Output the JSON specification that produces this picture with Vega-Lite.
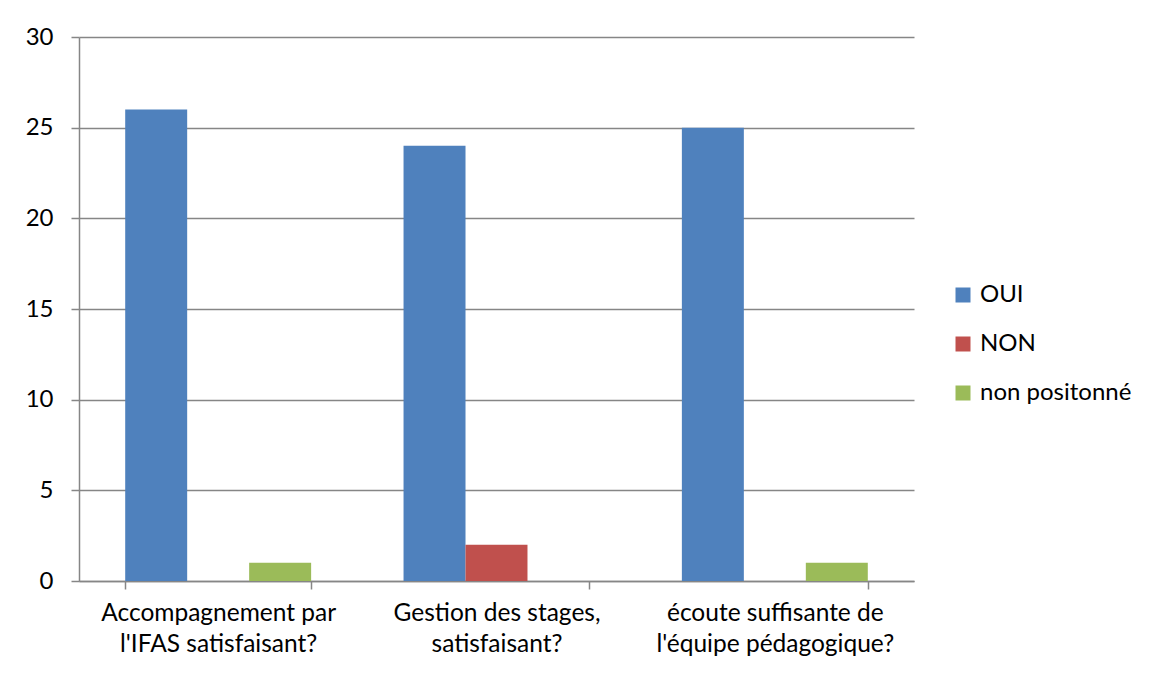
{
  "$schema": "https://vega.github.io/schema/vega-lite/v6.json",
  "width": 835,
  "height": 544,
  "autosize": {"type": "none"},
  "padding": {"left": 79, "top": 37, "right": 239, "bottom": 94},
  "background": "white",
  "data": {
    "values": [
      {"question": "Accompagnement par|l'IFAS satisfaisant?", "reponse": "OUI", "valeur": 26},
      {"question": "Accompagnement par|l'IFAS satisfaisant?", "reponse": "NON", "valeur": 0},
      {"question": "Accompagnement par|l'IFAS satisfaisant?", "reponse": "non positonné", "valeur": 1},
      {"question": "Gestion des stages,|satisfaisant?", "reponse": "OUI", "valeur": 24},
      {"question": "Gestion des stages,|satisfaisant?", "reponse": "NON", "valeur": 2},
      {"question": "Gestion des stages,|satisfaisant?", "reponse": "non positonné", "valeur": 0},
      {"question": "écoute suffisante de|l'équipe pédagogique?", "reponse": "OUI", "valeur": 25},
      {"question": "écoute suffisante de|l'équipe pédagogique?", "reponse": "NON", "valeur": 0},
      {"question": "écoute suffisante de|l'équipe pédagogique?", "reponse": "non positonné", "valeur": 1}
    ]
  },
  "mark": {"type": "bar"},
  "encoding": {
    "x": {
      "field": "question",
      "type": "nominal",
      "sort": null,
      "title": null,
      "scale": {"paddingInner": 0.332, "paddingOuter": 0.166},
      "axis": {
        "labelExpr": "split(datum.label, '|')",
        "labelAngle": 0,
        "labelFontSize": 24.5,
        "labelLineHeight": 31,
        "labelPadding": 12,
        "labelLimit": 0,
        "labelColor": "#000000",
        "labelFont": "Lato",
        "tickBand": "extent",
        "tickSize": 8,
        "tickColor": "#868686",
        "domainColor": "#868686",
        "tickWidth": 1.5,
        "domainWidth": 1.5,
        "grid": false
      }
    },
    "xOffset": {"field": "reponse", "type": "nominal", "sort": ["OUI", "NON", "non positonné"]},
    "y": {
      "field": "valeur",
      "type": "quantitative",
      "title": null,
      "scale": {"domain": [0, 30], "nice": false},
      "axis": {
        "values": [0, 5, 10, 15, 20, 25, 30],
        "labelFontSize": 24,
        "labelFont": "Lato",
        "labelColor": "#000000",
        "labelPadding": 18,
        "tickSize": 8,
        "tickColor": "#868686",
        "domainColor": "#868686",
        "tickWidth": 1.5,
        "domainWidth": 1.5,
        "gridColor": "#868686",
        "gridWidth": 1.5
      }
    },
    "color": {
      "field": "reponse",
      "type": "nominal",
      "sort": ["OUI", "NON", "non positonné"],
      "scale": {"domain": ["OUI", "NON", "non positonné"], "range": ["#4F81BD", "#C0504D", "#9BBB59"]},
      "legend": {
        "title": null,
        "orient": "none",
        "legendX": 872,
        "legendY": 246,
        "symbolType": "square",
        "symbolSize": 225,
        "symbolStrokeWidth": 0,
        "labelFontSize": 24,
        "labelLimit": 0,
        "labelFont": "Lato",
        "labelColor": "#000000",
        "rowPadding": 25,
        "labelOffset": 5
      }
    }
  },
  "config": {"view": {"stroke": null}}
}
